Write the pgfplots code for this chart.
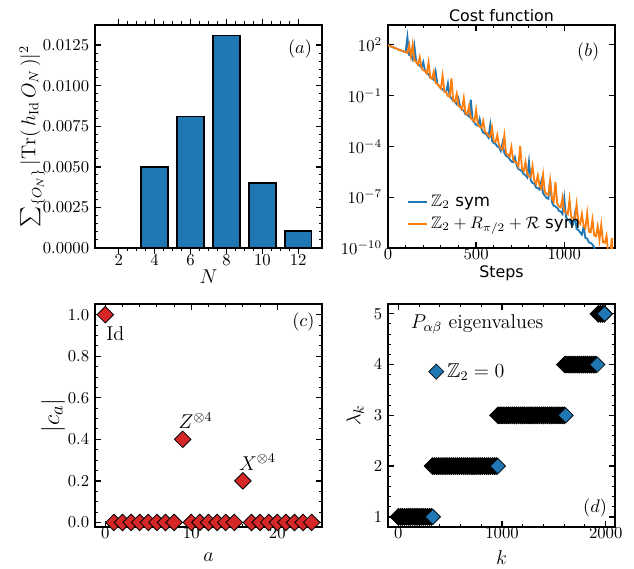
\documentclass[border=0pt]{standalone}
\usepackage{fontspec}
\usepackage{amsmath,amssymb}
\usepackage{pgfplots}
\pgfplotsset{compat=1.18}
\newfontfamily\dejavu{DejaVu Sans}
\definecolor{tabblue}{HTML}{1F77B4}
\definecolor{taborange}{HTML}{FF7F0E}
\definecolor{tabred}{HTML}{D62728}
\pgfplotsset{
  myax/.style={
    scale only axis, width=136.2pt, height=134pt, anchor=south west,
    axis line style={line width=1.1pt},
    tick align=inside,
    major tick length=3.6pt, minor tick length=2pt,
    major tick style={line width=0.8pt, black},
    minor tick style={line width=0.6pt, black},
    tick label style={font=\fontsize{10}{12}\selectfont},
    xticklabel style={yshift=3pt},
    label style={font=\fontsize{13}{15}\selectfont},
    /pgf/number format/1000 sep={},
    clip mode=individual,
  }
}
\begin{document}
\begin{tikzpicture}
\useasboundingbox (0,0) rectangle (380.4pt,340.8pt);
% ---------------- (a)
\begin{axis}[myax, at={(57pt,192pt)}, ybar, bar width=1.5, bar shift=0pt,
  xmin=0.675, xmax=13.325, ymin=0, ymax=0.01376,
  xtick={2,4,6,8,10,12}, minor x tick num=3,
  ytick={0,0.0025,0.005,0.0075,0.01,0.0125},
  yticklabels={0.0000,0.0025,0.0050,0.0075,0.0100,0.0125},
  minor y tick num=4, scaled y ticks=false,
  xlabel={$N$}, xlabel style={at={(axis description cs:0.5,-0.129)}, anchor=center},
  ylabel={$\sum_{\{O_N\}}|\mathrm{Tr}(\,h_{\mathrm{Id}}\,O_N\,)|^2$},
  ylabel style={at={(axis description cs:-0.277,0.5)}, anchor=center, font=\fontsize{12}{14}\selectfont}]
\addplot[fill=tabblue, draw=black, line width=0.9pt] coordinates {(2,0) (4,0.0050) (6,0.0081) (8,0.0131) (10,0.0040) (12,0.00105)};
\node[font=\fontsize{11}{13}\selectfont] at (rel axis cs:0.903,0.892) {$(a)$};
\end{axis}
% ---------------- (b)
\begin{axis}[myax, at={(232.8pt,192pt)},
  xmin=0, xmax=1288, ymin=-10, ymax=3.19,
  xtick={0,500,1000}, minor x tick num=4,
  ytick={-10,-7,-4,-1,2},
  yticklabels={$10^{-10}$,$10^{-7}$,$10^{-4}$,$10^{-1}$,$10^{2}$},
  xlabel={Steps}, xlabel style={font=\dejavu\fontsize{9.5}{11}\selectfont, at={(axis description cs:0.5,-0.112)}, anchor=center},
  legend image code/.code={\draw[#1] (0pt,0pt) -- (11.2pt,0pt);},
  legend style={draw=none, fill=none, font=\fontsize{10}{12}\selectfont, at={(0.062,0.045)}, anchor=south west, row sep=1pt},
  legend cell align=left]
\addplot[tabblue, line width=1.1pt] table {
0 1.97
10 1.93
20 1.89
30 1.85
40 1.81
50 1.77
60 1.72
70 1.68
80 1.64
90 1.60
100 1.56
110 2.45
120 1.40
130 1.36
140 1.13
150 1.92
160 1.01
170 0.84
180 0.79
190 0.65
200 0.98
210 0.47
220 0.32
230 0.28
240 0.05
250 0.02
260 -0.07
270 0.42
280 -0.29
290 -0.43
300 -0.57
310 -0.61
320 -0.76
330 -0.80
340 -0.28
350 -1.06
360 -1.15
370 -1.32
380 -1.37
390 -1.51
400 -1.18
410 -1.69
420 -1.84
430 -1.88
440 -2.11
450 -2.14
460 -2.23
470 -1.24
480 -2.45
490 -2.59
500 -2.73
510 -2.77
520 -2.38
530 -2.96
540 -3.19
550 -3.22
560 -3.31
570 -3.48
580 -2.72
590 -3.67
600 -3.81
610 -3.85
620 -4.00
630 -4.04
640 -4.27
650 -3.78
660 -4.39
670 -4.56
680 -4.61
690 -4.75
700 -4.89
710 -4.93
720 -4.64
730 -5.12
740 -5.35
750 -5.38
760 -5.47
770 -5.64
780 -5.69
790 -5.83
800 -4.90
810 -6.01
820 -6.16
830 -6.20
840 -6.43
850 -6.46
860 -6.55
870 -6.06
880 -6.77
890 -6.91
900 -7.05
910 -7.09
920 -6.00
930 -7.28
940 -7.51
950 -7.54
960 -7.63
970 -7.80
980 -7.85
990 -7.99
1000 -7.06
1010 -8.17
1020 -8.32
1030 -8.36
1040 -8.59
1050 -8.62
1060 -8.01
1070 -8.88
1080 -8.93
1090 -9.07
1100 -9.21
1110 -8.75
1120 -9.40
1130 -9.44
1140 -9.67
1150 -9.70
1160 -9.79
1170 -9.96
1180 -10.3
1190 -10.6
};
\addlegendentry{$\mathbb{Z}_2$ {\dejavu sym}}
\addplot[taborange, line width=1.1pt] table {
0 1.97
10 1.93
20 1.89
30 1.85
40 1.81
50 1.77
60 1.72
70 1.68
80 1.64
90 1.60
100 1.56
110 1.53
120 1.99
130 1.34
140 2.03
150 1.08
160 1.00
170 0.83
180 1.27
190 0.64
200 0.50
210 0.45
220 0.31
230 0.96
240 0.05
250 0.00
260 0.42
270 -0.25
280 -0.31
290 -0.44
300 -0.58
310 0.18
320 -0.76
330 -0.81
340 -1.02
350 -1.06
360 0.02
370 -1.30
380 -1.36
390 -0.89
400 -1.62
410 -1.66
420 -1.80
430 -1.15
440 -2.06
450 -2.10
460 -1.62
470 -2.34
480 -2.40
490 -2.53
500 -1.86
510 -2.70
520 -2.84
530 -2.89
540 -2.50
550 -3.14
560 -3.21
570 -3.38
580 -3.44
590 -2.87
600 -3.70
610 -3.74
620 -3.33
630 -3.93
640 -4.14
650 -4.18
660 -3.35
670 -4.42
680 -4.48
690 -4.61
700 -4.04
710 -4.78
720 -4.92
730 -4.97
740 -5.18
750 -3.97
760 -5.29
770 -5.46
780 -4.92
790 -5.65
800 -5.78
810 -5.82
820 -5.16
830 -6.01
840 -6.22
850 -5.71
860 -6.33
870 -6.50
880 -5.66
890 -6.69
900 -6.82
910 -6.86
920 -6.00
930 -7.05
940 -7.26
950 -6.10
960 -7.37
970 -7.54
980 -7.60
990 -7.03
1000 -7.86
1010 -7.88
1020 -8.00
1030 -7.13
1040 -8.21
1050 -8.24
1060 -8.29
1070 -7.43
1080 -8.47
1090 -8.58
1100 -7.99
1110 -8.71
1120 -8.83
1130 -7.96
1140 -9.04
1150 -9.07
1160 -8.32
1170 -9.26
1180 -9.30
1190 -8.71
1200 -9.52
1210 -8.64
1220 -9.66
1230 -9.69
1240 -9.27
1250 -10.4
1260 -10.5
1270 -9.4
1276 -10.5
};
\addlegendentry{$\mathbb{Z}_2+R_{\pi/2}+\mathcal{R}$ {\dejavu sym}}
\node[font=\fontsize{11}{13}\selectfont] at (rel axis cs:0.882,0.876) {$(b)$};
\node[font=\dejavu\fontsize{9.5}{11}\selectfont] at (rel axis cs:0.5,1.04) {Cost function};
\end{axis}
% ---------------- (c)
\begin{axis}[myax, at={(57pt,24.6pt)},
  xmin=-1.2, xmax=25.2, ymin=-0.022, ymax=1.053,
  xtick={0,10,20}, minor x tick num=4,
  ytick={0,0.2,0.4,0.6,0.8,1.0},
  yticklabels={0.0,0.2,0.4,0.6,0.8,1.0},
  minor y tick num=3,
  xlabel={$a$}, xlabel style={at={(axis description cs:0.5,-0.133)}, anchor=center},
  ylabel={$|c_a|$}, ylabel style={at={(axis description cs:-0.185,0.5)}, anchor=center, font=\fontsize{15}{17}\selectfont}]
\addplot[only marks, mark=square*, mark size=3.5pt, mark options={rotate=45, fill=tabred, draw=black, line width=0.5pt}] coordinates {
(0,1.0) (1,0) (2,0) (3,0) (4,0) (5,0) (6,0) (7,0) (8,0) (9,0.4)
(10,0) (11,0) (12,0) (13,0) (14,0) (15,0) (16,0.2)
(17,0) (18,0) (19,0) (20,0) (21,0) (22,0) (23,0) (24,0)};
\node[font=\fontsize{12}{14}\selectfont] at (axis cs:1.16,0.91) {$\mathrm{Id}$};
\node[font=\fontsize{12}{14}\selectfont] at (axis cs:10.5,0.49) {$Z^{\otimes 4}$};
\node[font=\fontsize{12}{14}\selectfont] at (axis cs:17.7,0.29) {$X^{\otimes 4}$};
\node[font=\fontsize{11}{13}\selectfont] at (rel axis cs:0.918,0.917) {$(c)$};
\end{axis}
% ---------------- (d)
\begin{axis}[myax, at={(232.8pt,24.6pt)},
  xmin=-100, xmax=2090, ymin=0.8, ymax=5.2,
  xtick={0,1000,2000}, minor x tick num=4,
  ytick={1,2,3,4,5}, minor y tick num=4,
  xlabel={$k$}, xlabel style={at={(axis description cs:0.5,-0.135)}, anchor=center},
  ylabel={$\lambda_k$}, ylabel style={at={(axis description cs:-0.145,0.5)}, anchor=center},
  legend style={draw=none, fill=none, font=\fontsize{12}{14}\selectfont, at={(0.156,0.696)}, anchor=west},
  legend image code/.code={\draw[#1] plot coordinates {(0.2cm,0cm)};}]
\addplot[only marks, mark=square*, mark size=3.6pt, mark options={rotate=45, fill=black, draw=black, line width=0.4pt}, forget plot] coordinates {
(0,1) (20,1) (40,1) (60,1) (80,1) (100,1) (120,1) (140,1) (160,1) (180,1) (200,1) (220,1) (240,1) (260,1) (280,1) (300,1) (320,1)
(330,2) (350,2) (370,2) (390,2) (410,2) (430,2) (450,2) (470,2) (490,2) (510,2) (530,2) (550,2) (570,2) (590,2) (610,2) (630,2) (650,2) (670,2) (690,2) (710,2) (730,2) (750,2) (770,2) (790,2) (810,2) (830,2) (850,2) (870,2) (890,2) (910,2) (930,2) (950,2)
(962,3) (980,3) (1000,3) (1020,3) (1040,3) (1060,3) (1080,3) (1100,3) (1120,3) (1140,3) (1160,3) (1180,3) (1200,3) (1220,3) (1240,3) (1260,3) (1280,3) (1300,3) (1320,3) (1340,3) (1360,3) (1380,3) (1400,3) (1420,3) (1440,3) (1460,3) (1480,3) (1500,3) (1520,3) (1540,3) (1560,3) (1580,3) (1600,3)
(1607,4) (1625,4) (1645,4) (1665,4) (1685,4) (1705,4) (1725,4) (1745,4) (1765,4) (1785,4) (1805,4) (1825,4) (1845,4) (1865,4) (1885,4) (1905,4)
(1930,5) (1950,5) (1970,5) (1985,5)};
\addplot[only marks, mark=square*, mark size=3.2pt, mark options={rotate=45, fill=tabblue, draw=black, line width=0.4pt}] coordinates {
(333,1) (960,2) (1614,3) (1920,4) (1991,5)};
\addlegendentry{$\mathbb{Z}_2=0$}
\node[anchor=west, font=\fontsize{12}{14}\selectfont] at (rel axis cs:0.075,0.906) {$P_{\alpha\beta}$ eigenvalues};
\node[font=\fontsize{11}{13}\selectfont] at (rel axis cs:0.912,0.084) {$(d)$};
\end{axis}
\end{tikzpicture}
\end{document}
